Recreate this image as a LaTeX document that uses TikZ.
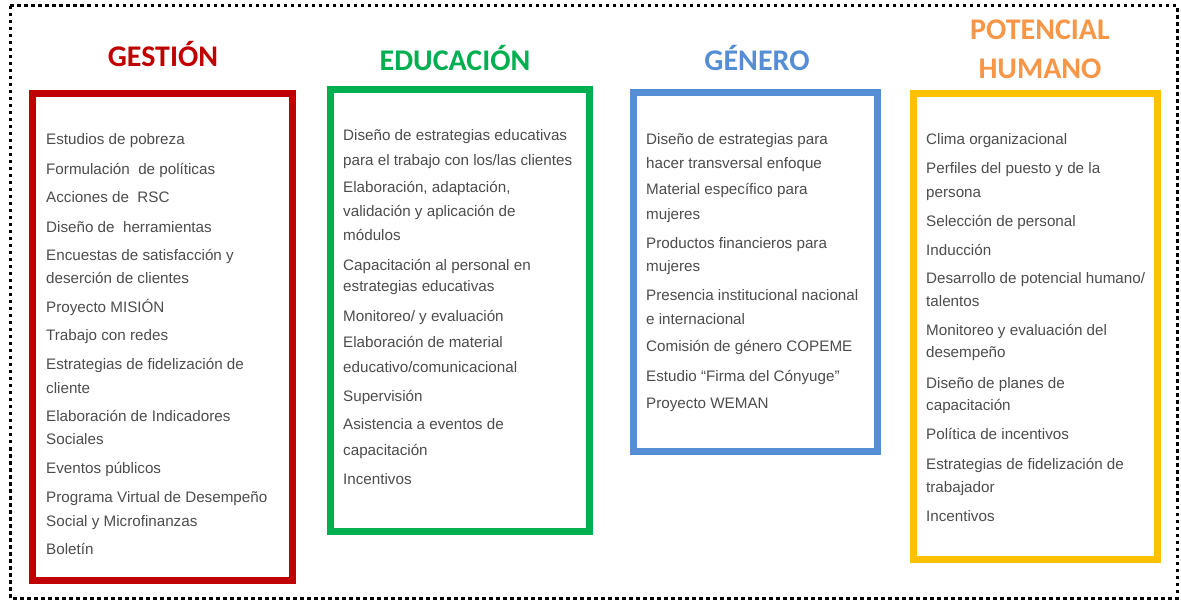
\documentclass[tikz,border=0pt]{standalone}
\usepackage{fontspec}
\setmainfont{Liberation Sans}
\newfontfamily\headfont{Carlito}

\definecolor{gestred}{HTML}{C00000}
\definecolor{edugreen}{HTML}{00B050}
\definecolor{genblue}{HTML}{558ED5}
\definecolor{pottitle}{HTML}{F79646}
\definecolor{potgold}{HTML}{FFC000}
\definecolor{itemgray}{HTML}{4C4C4C}

\tikzset{
  frame/.style={draw=black, line width=3pt, dash pattern=on 3.5pt off 3.5pt},
  catbox/.style={draw=#1, line width=7pt, rectangle, inner sep=0pt, outer sep=0pt},
  cattitle/.style={text=#1, font=\headfont\bfseries\fontsize{30}{32}\selectfont, anchor=base, inner sep=0pt},
  item/.style={text=itemgray, font=\fontsize{15.2}{18}\selectfont, anchor=base west, inner sep=0pt}
}

\begin{document}
\begin{tikzpicture}[x=1pt,y=-1pt]
\useasboundingbox (0,0) rectangle (1181,601);

% outer dotted frame
\draw[frame] (10,6) rectangle (1177,598);

% category boxes
\node[catbox=gestred,  minimum width=259.5pt, minimum height=487pt] (gbox) at (162.25,337) {};
\node[catbox=edugreen, minimum width=259pt,   minimum height=441.5pt] (ebox) at (460,310.25) {};
\node[catbox=genblue,  minimum width=244pt,   minimum height=358.5pt] (nbox) at (755,272.25) {};
\node[catbox=potgold,  minimum width=244pt,   minimum height=466pt] (pbox) at (1035,326.5) {};

% titles
\node[cattitle=gestred]  (gtitle)  at (163,67) {GESTIÓN};
\node[cattitle=edugreen] (etitle)  at (455,71) {EDUCACIÓN};
\node[cattitle=genblue]  (ntitle)  at (757,71) {GÉNERO};
\node[cattitle=pottitle] (ptitle1) at (1040,40) {POTENCIAL};
\node[cattitle=pottitle] (ptitle2) at (1040,79) {HUMANO};

% GESTIÓN items (baseline y / text)
\foreach \yy/\txt [count=\i] in {
  145/{Estudios de pobreza},
  175/{Formulación\ \ de políticas},
  203/{Acciones de\ \ RSC},
  233/{Diseño de\ \ herramientas},
  261/{Encuestas de satisfacción y},
  284/{deserción de clientes},
  313/{Proyecto MISIÓN},
  341/{Trabajo con redes},
  370/{Estrategias de fidelización de},
  394/{cliente},
  421/{Elaboración de Indicadores},
  445/{Sociales},
  473/{Eventos públicos},
  502/{Programa Virtual de Desempeño},
  526/{Social y Microfinanzas},
  554/{Boletín}}
  \node[item] (g\i) at (46,\yy) {\txt};

% EDUCACIÓN items
\foreach \yy/\txt [count=\i] in {
  141/{Diseño de estrategias educativas},
  166/{para el trabajo con los/las clientes},
  193/{Elaboración, adaptación,},
  217/{validación y aplicación de},
  241/{módulos},
  271/{Capacitación al personal en},
  292/{estrategias educativas},
  322/{Monitoreo/ y evaluación},
  348/{Elaboración de material},
  373/{educativo/comunicacional},
  402/{Supervisión},
  430/{Asistencia a eventos de},
  455/{capacitación},
  484/{Incentivos}}
  \node[item] (e\i) at (343,\yy) {\txt};

% GÉNERO items
\foreach \yy/\txt [count=\i] in {
  145/{Diseño de estrategias para},
  169/{hacer transversal enfoque},
  195/{Material específico para},
  220/{mujeres},
  249/{Productos financieros para},
  272/{mujeres},
  301/{Presencia institucional nacional},
  325/{e internacional},
  352/{Comisión de género COPEME},
  382/{Estudio “Firma del Cónyuge”},
  409/{Proyecto WEMAN}}
  \node[item] (n\i) at (646,\yy) {\txt};

% POTENCIAL HUMANO items
\foreach \yy/\txt [count=\i] in {
  145/{Clima organizacional},
  174/{Perfiles del puesto y de la},
  198/{persona},
  227/{Selección de personal},
  256/{Inducción},
  284/{Desarrollo de potencial humano/},
  307/{talentos},
  336/{Monitoreo y evaluación del},
  358/{desempeño},
  389/{Diseño de planes de},
  411/{capacitación},
  439/{Política de incentivos},
  469/{Estrategias de fidelización de},
  492/{trabajador},
  521/{Incentivos}}
  \node[item] (p\i) at (926,\yy) {\txt};
\end{tikzpicture}
\end{document}
